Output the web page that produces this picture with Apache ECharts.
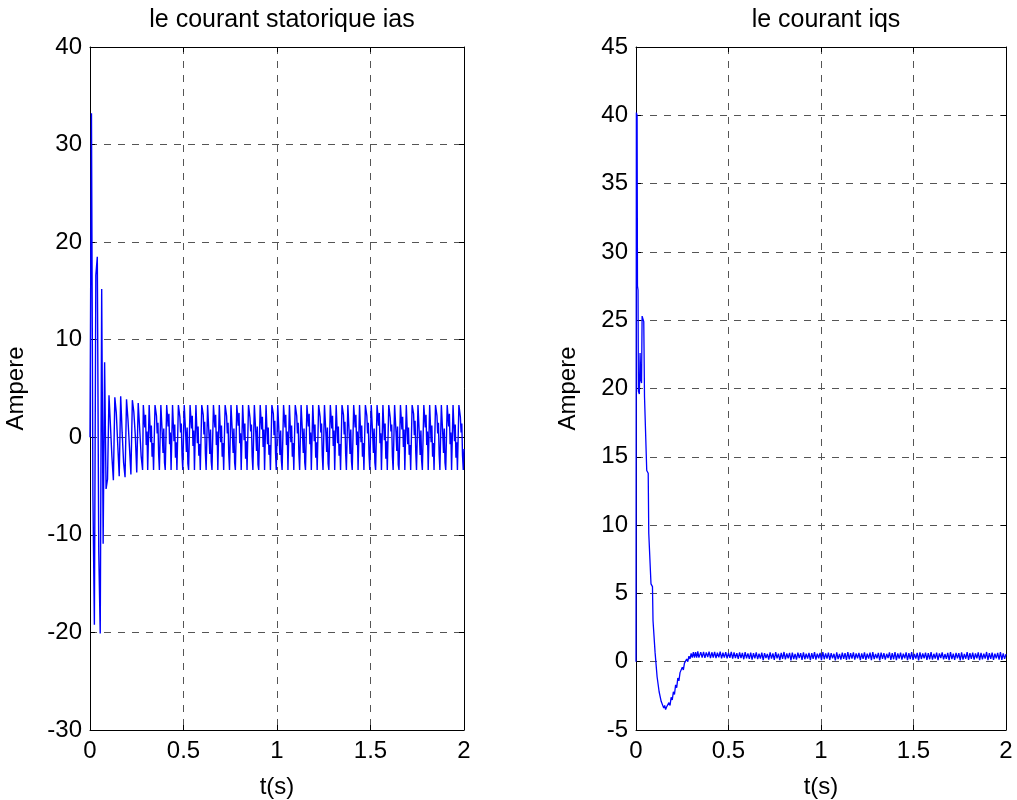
<!DOCTYPE html>
<html>
<head>
<meta charset="utf-8">
<script src="https://cdn.jsdelivr.net/npm/echarts@6/dist/echarts.min.js"></script>
<style>html,body{margin:0;padding:0;background:#fff}#c{width:1017px;height:800px}</style>
</head>
<body>
<div id="c"></div>
<script>
// ---------- data ----------
const titles = ['le courant statorique ias', 'le courant iqs'];
const xTicks = [0, 0.5, 1, 1.5, 2];
const yTicksLeft = [-30, -20, -10, 0, 10, 20, 30, 40];
const yTicksRight = [-5, 0, 5, 10, 15, 20, 25, 30, 35, 40, 45];

// ias start-up: sampled every iasTransientStep seconds from t = 0
const iasTransientStep = 0.0078125;
const iasTransient = [
  0, 33.2, -6.0, -19.2, 16.6, 18.5, -11.8, -20.1, 15.2, -10.9, 7.7, -5.3,
  -4.3, 4.3, 1.2, -2.0,
  -4.4, 4.1, 2.5, -0.8,
  -4.0, 4.2, 0.5, -2.6,
  -4.1, 3.9, 1.8, -1.0,
  -3.8, 3.8, 2.6, 0.2,
  -3.6, 3.5, 0.9, -1.9
];
// ias steady state: sampled every iasSteadyStep seconds from iasSteadyStart
const iasSteadyStart = 0.28125;
const iasSteadyStep = 0.00390625;
const iasSteady = [
  -3.35, 3.3, 3.3, 1.0, 2.3, -0.8, 0.6, -3.35,
  -3.35, 3.3, 3.2, -0.5, 1.2, -2.0, -0.6, -3.35,
  -3.35, 3.3, 3.3, 2.2, 0.4, 1.5, -1.8, -3.35,
  -3.35, 3.3, 3.2, 0.2, -1.6, 0.9, -2.6, -3.35,
  -3.35, 3.3, 3.3, 1.1, 2.4, -0.7, 0.5, -3.35,
  -3.35, 3.3, 3.2, -0.4, 1.3, -2.1, -0.5, -3.35,
  -3.35, 3.3, 3.3, 2.1, 0.5, 1.4, -1.9, -3.35,
  -3.35, 3.3, 3.2, 0.3, -1.5, 1.0, -2.7, -3.35,
  -3.35, 3.3, 3.3, 0.9, 2.2, -0.9, 0.7, -3.35,
  -3.35, 3.3, 3.2, -0.6, 1.1, -1.9, -0.7, -3.35,
  -3.35, 3.3, 3.3, 2.3, 0.3, 1.6, -1.7, -3.35,
  -3.35, 3.3, 3.2, 0.1, -1.7, 0.8, -2.5, -3.35,
  -3.35, 3.3, 3.3, 1.0, 2.3, -0.8, 0.6, -3.35,
  -3.35, 3.3, 3.2, -0.5, 1.2, -2.0, -0.6, -3.35,
  -3.35, 3.3, 3.3, 2.2, 0.4, 1.5, -1.8, -3.35,
  -3.35, 3.3, 3.2, 0.2, -1.6, 0.9, -2.6, -3.35,
  -3.35, 3.3, 3.3, 1.2, 2.5, -0.6, 0.4, -3.35,
  -3.35, 3.3, 3.2, -0.3, 1.4, -2.2, -0.4, -3.35,
  -3.35, 3.3, 3.3, 2.0, 0.6, 1.3, -2.0, -3.35,
  -3.35, 3.3, 3.2, 0.4, -1.4, 1.1, -2.8, -3.35,
  -3.35, 3.3, 3.3, 0.8, 2.1, -1.0, 0.8, -3.35,
  -3.35, 3.3, 3.2, -0.7, 1.0, -1.8, -0.8, -3.35,
  -3.35, 3.3, 3.3, 2.4, 0.2, 1.7, -1.6, -3.35,
  -3.35, 3.3, 3.2, 0.0, -1.8, 0.7, -2.4, -3.35,
  -3.35, 3.3, 3.3, 1.0, 2.3, -0.8, 0.6, -3.35,
  -3.35, 3.3, 3.2, -0.5, 1.2, -2.0, -0.6, -3.35,
  -3.35, 3.3, 3.3, 2.2, 0.4, 1.5, -1.8, -3.35,
  -3.35, 3.3, 3.2, 0.2, -1.6, 0.9, -2.6, -3.35,
  -3.35, 3.3, 3.3, 1.1, 2.4, -0.7, 0.5, -3.35,
  -3.35, 3.3, 3.2, -0.4, 1.3, -2.1, -0.5, -3.35,
  -3.35, 3.3, 3.3, 2.1, 0.5, 1.4, -1.9, -3.35,
  -3.35, 3.3, 3.2, 0.3, -1.5, 1.0, -2.7, -3.35,
  -3.35, 3.3, 3.3, 0.9, 2.2, -0.9, 0.7, -3.35,
  -3.35, 3.3, 3.2, -0.6, 1.1, -1.9, -0.7, -3.35,
  -3.35, 3.3, 3.3, 2.3, 0.3, 1.6, -1.7, -3.35,
  -3.35, 3.3, 3.2, 0.1, -1.7, 0.8, -2.5, -3.35,
  -3.35, 3.3, 3.3, 1.0, 2.3, -0.8, 0.6, -3.35,
  -3.35, 3.3, 3.2, -0.5, 1.2, -2.0, -0.6, -3.35,
  -3.35, 3.3, 3.3, 2.2, 0.4, 1.5, -1.8, -3.35,
  -3.35, 3.3, 3.2, 0.2, -1.6, 0.9, -2.6, -3.35,
  -3.35, 3.3, 3.3, 1.2, 2.5, -0.6, 0.4, -3.35,
  -3.35, 3.3, 3.2, -0.3, 1.4, -2.2, -0.4, -3.35,
  -3.35, 3.3, 3.3, 2.0, 0.6, 1.3, -2.0, -3.35,
  -3.35, 3.3, 3.2, 0.4, -1.4, 1.1, -2.8, -3.35,
  -3.35, 3.3, 3.3, 0.8, 2.1, -1.0, 0.8, -3.35,
  -3.35, 3.3, 3.2, -0.7, 1.0, -1.8, -0.8, -3.35,
  -3.35, 3.3, 3.3, 2.4, 0.2, 1.7, -1.6, -3.35,
  -3.35, 3.3, 3.2, 0.0, -1.8, 0.7, -2.4, -3.35,
  -3.35, 3.3, 3.3, 1.0, 2.3, -0.8, 0.6, -3.35,
  -3.35, 3.3, 3.2, -0.5, 1.2, -2.0, -0.6, -3.35,
  -3.35, 3.3, 3.3, 2.2, 0.4, 1.5, -1.8, -3.35,
  -3.35, 3.3, 3.2, 0.2, -1.6, 0.9, -2.6, -3.35,
  -3.35, 3.3, 3.3, 1.1, 2.4, -0.7, 0.5, -3.35,
  -3.35, 3.3, 3.2, -0.4, 1.3, -2.1, -0.5, -3.35,
  -3.35, 3.3, 3.3, 2.1, 0.5, 1.4, -1.9, -3.35,
  -1.2
];

// iqs transient: explicit times and values
const iqsTime = [
  0, 0.002, 0.006, 0.008, 0.011, 0.013, 0.018, 0.022, 0.026, 0.030,
  0.033, 0.042, 0.046, 0.055, 0.058, 0.066, 0.069, 0.078, 0.081, 0.089,
  0.092, 0.100, 0.103, 0.111, 0.114, 0.122, 0.125, 0.133, 0.136, 0.145,
  0.150, 0.155, 0.160, 0.166, 0.172, 0.178, 0.184, 0.190, 0.196, 0.202,
  0.208, 0.214, 0.220, 0.226, 0.232, 0.238, 0.244, 0.250, 0.256, 0.262,
  0.268, 0.274, 0.280, 0.286, 0.292, 0.298, 0.304, 0.310, 0.316, 0.322,
  0.328, 0.334, 0.340
];
const iqsTransient = [
  0, 40.2, 40.0, 27.5, 27.2, 19.8, 19.6, 22.6, 20.6, 20.4,
  25.3, 24.9, 19.4, 19.3, 14.0, 13.8, 9.4, 9.3, 5.7, 5.5,
  3.0, 2.9, 0.7, 0.6, -1.1, -1.2, -2.2, -2.3, -2.9, -2.9,
  -3.4, -3.2, -3.5, -3.3, -3.4, -3.0, -3.2, -2.6, -2.8, -2.2,
  -2.4, -1.7, -1.9, -1.2, -1.4, -0.8, -0.9, -0.4, -0.6, -0.1,
  -0.2, 0.2, 0.0, 0.4, 0.2, 0.6, 0.3, 0.7, 0.3, 0.7,
  0.3, 0.75, 0.3
];
// iqs steady ripple: sampled every iqsRippleStep from iqsRippleStart
const iqsRippleStart = 0.35;
const iqsRippleStep = 0.0075;
const iqsRipple = [
  0.70, 0.30, 0.72, 0.28, 0.68, 0.33, 0.74, 0.26, 0.69, 0.31,
  0.71, 0.27, 0.66, 0.32, 0.73, 0.24, 0.67, 0.30, 0.70, 0.25,
  0.65, 0.29, 0.72, 0.22, 0.68, 0.27, 0.63, 0.20, 0.69, 0.26,
  0.64, 0.18, 0.70, 0.24, 0.61, 0.21, 0.67, 0.15, 0.62, 0.25,
  0.69, 0.19, 0.58, 0.23, 0.66, 0.12, 0.63, 0.27, 0.57, 0.16,
  0.68, 0.22, 0.61, 0.14, 0.70, 0.25, 0.59, 0.12, 0.65, 0.21,
  0.71, 0.17, 0.60, 0.24, 0.64, 0.10, 0.67, 0.19, 0.57, 0.15,
  0.66, 0.26, 0.62, 0.13, 0.69, 0.18, 0.58, 0.23, 0.65, 0.11,
  0.63, 0.20, 0.70, 0.16, 0.59, 0.25, 0.64, 0.12, 0.71, 0.18,
  0.61, 0.22, 0.67, 0.14, 0.62, 0.24, 0.58, 0.09, 0.68, 0.19,
  0.57, 0.15, 0.66, 0.21, 0.62, 0.13, 0.70, 0.18, 0.63, 0.23,
  0.68, 0.16, 0.60, 0.25, 0.65, 0.11, 0.61, 0.20, 0.69, 0.14,
  0.59, 0.23, 0.66, 0.12, 0.71, 0.19, 0.57, 0.24, 0.64, 0.10,
  0.67, 0.21, 0.62, 0.15, 0.58, 0.26, 0.69, 0.13, 0.63, 0.18,
  0.70, 0.12, 0.60, 0.22, 0.66, 0.16, 0.59, 0.25, 0.68, 0.11,
  0.62, 0.19, 0.71, 0.14, 0.57, 0.23, 0.65, 0.10, 0.69, 0.20,
  0.60, 0.24, 0.67, 0.13, 0.63, 0.18, 0.70, 0.15, 0.58, 0.22,
  0.66, 0.11, 0.61, 0.26, 0.69, 0.17, 0.56, 0.21, 0.64, 0.12,
  0.71, 0.19, 0.59, 0.14, 0.65, 0.24, 0.62, 0.10, 0.68, 0.16,
  0.57, 0.22, 0.70, 0.13, 0.63, 0.20, 0.66, 0.15, 0.60, 0.25,
  0.69, 0.12, 0.64, 0.18, 0.58, 0.23, 0.71, 0.11, 0.62, 0.20,
  0.67, 0.14, 0.59, 0.24, 0.65, 0.16, 0.70, 0.13, 0.61, 0.21,
  0.55
];

// ---------- build ----------
const iasData = iasTransient.map((v, i) => [i * iasTransientStep, v])
  .concat(iasSteady.map((v, i) => [iasSteadyStart + i * iasSteadyStep, v]));
const iqsData = iqsTime.map((t, i) => [t, iqsTransient[i]])
  .concat(iqsRipple.map((v, i) => [iqsRippleStart + i * iqsRippleStep, v]));

const FONT = "'Liberation Sans', Arial, Helvetica, sans-serif";
const FS = 24;
const gridColor = '#555';

function xAxes(gi) {
  return [
    {
      type: 'value', gridIndex: gi, position: 'bottom',
      min: xTicks[0], max: xTicks[xTicks.length - 1], interval: 0.5,
      name: 't(s)', nameLocation: 'middle', nameGap: 45,
      nameTextStyle: { fontFamily: FONT, fontSize: FS, color: '#000' },
      axisLine: { show: true, onZero: false, lineStyle: { color: '#000', width: 1 } },
      axisTick: { show: true, inside: true, length: 5, lineStyle: { color: '#000' } },
      axisLabel: { show: true, margin: 9, fontFamily: FONT, fontSize: FS, color: '#000' },
      splitLine: { show: true, lineStyle: { color: gridColor, type: [7, 7], width: 1 } }
    },
    {
      type: 'value', gridIndex: gi, position: 'top',
      min: xTicks[0], max: xTicks[xTicks.length - 1], interval: 0.5,
      axisLine: { show: true, onZero: false, lineStyle: { color: '#000', width: 1 } },
      axisTick: { show: true, inside: true, length: 5, lineStyle: { color: '#000' } },
      axisLabel: { show: false }, splitLine: { show: false }
    }
  ];
}
function yAxes(gi, ticks, interval, gap) {
  return [
    {
      type: 'value', gridIndex: gi, position: 'left',
      min: ticks[0], max: ticks[ticks.length - 1], interval: interval,
      name: 'Ampere', nameLocation: 'middle', nameGap: gap,
      nameTextStyle: { fontFamily: FONT, fontSize: FS, color: '#000' },
      axisLine: { show: true, onZero: false, lineStyle: { color: '#000', width: 1 } },
      axisTick: { show: true, inside: true, length: 5, lineStyle: { color: '#000' } },
      axisLabel: { show: true, margin: 8, fontFamily: FONT, fontSize: FS, color: '#000' },
      splitLine: { show: true, lineStyle: { color: gridColor, type: [7, 7], width: 1 } }
    },
    {
      type: 'value', gridIndex: gi, position: 'right',
      min: ticks[0], max: ticks[ticks.length - 1], interval: interval,
      axisLine: { show: true, onZero: false, lineStyle: { color: '#000', width: 1 } },
      axisTick: { show: true, inside: true, length: 5, lineStyle: { color: '#000' } },
      axisLabel: { show: false }, splitLine: { show: false }
    }
  ];
}

const chart = echarts.init(document.getElementById('c'), null, { renderer: 'canvas' });
chart.setOption({
  animation: false,
  backgroundColor: '#fff',
  title: [
    { text: titles[0], left: 277, top: 3, textAlign: 'center',
      textStyle: { fontFamily: FONT, fontSize: 25, fontWeight: 'normal', color: '#000' } },
    { text: titles[1], left: 821, top: 3, textAlign: 'center',
      textStyle: { fontFamily: FONT, fontSize: 25, fontWeight: 'normal', color: '#000' } }
  ],
  grid: [
    { left: 90, top: 47, width: 374, height: 683, containLabel: false, outerBoundsMode: 'none' },
    { left: 636, top: 47, width: 370, height: 683, containLabel: false, outerBoundsMode: 'none' }
  ],
  xAxis: xAxes(0).concat(xAxes(1)),
  yAxis: yAxes(0, yTicksLeft, 10, 62).concat(yAxes(1, yTicksRight, 5, 56)),
  series: [
    { type: 'line', xAxisIndex: 0, yAxisIndex: 0, data: iasData, showSymbol: false,
      lineStyle: { color: '#0000ff', width: 1.4 }, itemStyle: { color: '#0000ff' }, clip: true },
    { type: 'line', xAxisIndex: 2, yAxisIndex: 2, data: iqsData, showSymbol: false,
      lineStyle: { color: '#0000ff', width: 1.3 }, itemStyle: { color: '#0000ff' }, clip: true }
  ]
});
</script>
</body>
</html>
